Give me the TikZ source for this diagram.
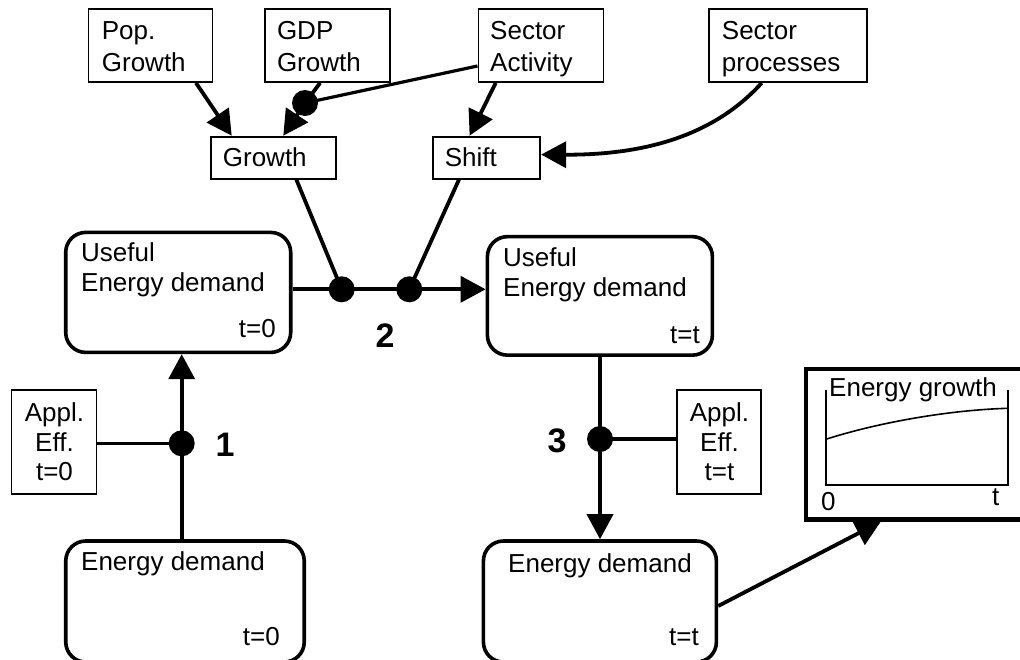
\documentclass[tikz,border=0pt]{standalone}
\usepackage{fontspec}
\setmainfont{Liberation Sans}
\usetikzlibrary{arrows.meta,calc}
\tikzset{
  thinbox/.style={draw, line width=1.8pt, inner sep=0pt},
  rbox/.style={draw, line width=3.6pt, rounded corners=20pt, inner sep=0pt},
  egbox/.style={draw, line width=4.5pt, inner sep=0pt},
  dot/.style={circle, fill=black, minimum size=26pt, inner sep=0pt},
  conn/.style={line width=3.8pt},
  arr/.style={conn, -{Triangle[length=25pt,width=26pt]}},
  thinconn/.style={line width=3.2pt},
  lbl/.style={font=\fontsize{26}{30}\selectfont, inner sep=0pt, anchor=base west},
  rlbl/.style={font=\fontsize{26}{30}\selectfont, inner sep=0pt, anchor=base east},
  clbl/.style={font=\fontsize{26}{30}\selectfont, inner sep=0pt, anchor=base},
  num/.style={font=\fontsize{34}{40}\selectfont\bfseries, inner sep=0pt, anchor=center},
  axis/.style={line width=1.6pt}
}
\begin{document}
\begin{tikzpicture}[x=1pt,y=-1pt]
\useasboundingbox (0,0) rectangle (1020,659);
\clip (0,0) rectangle (1020,659);
% top boxes
\node[thinbox, minimum width=124pt, minimum height=73pt] (pop) at (150.4,45.5) {};
\node[thinbox, minimum width=125pt, minimum height=73pt] (gdp) at (327.7,45.5) {};
\node[thinbox, minimum width=125pt, minimum height=73pt] (sa) at (540.9,45.5) {};
\node[thinbox, minimum width=158pt, minimum height=73pt] (sp) at (788,45.5) {};
\node[thinbox, minimum width=125pt, minimum height=42pt] (growth) at (273.3,157.6) {};
\node[thinbox, minimum width=107.5pt, minimum height=42pt] (shift) at (486.5,157.6) {};
\node[lbl] (popa) at (101.7,39.5) {Pop.};
\node[lbl] (popb) at (101.7,71) {Growth};
\node[lbl] (gdpa) at (276.8,39.5) {GDP};
\node[lbl] (gdpb) at (276.8,71) {Growth};
\node[lbl] (saa) at (490,39.5) {Sector};
\node[lbl] (sab) at (490,71) {Activity};
\node[lbl] (spa) at (721.7,39.5) {Sector};
\node[lbl] (spb) at (721.7,71) {processes};
\node[lbl] (growtht) at (222.7,166.3) {Growth};
\node[lbl] (shiftt) at (444.6,166.3) {Shift};
% main boxes
\node[rbox, minimum width=225pt, minimum height=120pt] (ue0) at (178.2,292.4) {};
\node[rbox, minimum width=225pt, minimum height=118.5pt] (uet) at (599.9,295.9) {};
\node[rbox, minimum width=238.5pt, minimum height=121pt] (ed0) at (185,601.5) {};
\node[rbox, minimum width=233pt, minimum height=121pt] (edt) at (599.9,601.5) {};
\node[lbl] (ue0a) at (81,261.7) {Useful};
\node[lbl] (ue0b) at (81,291.7) {Energy demand};
\node[rlbl] (ue0c) at (276,337.7) {t=0};
\node[lbl] (ueta) at (503,266.6) {Useful};
\node[lbl] (uetb) at (503,296.7) {Energy demand};
\node[rlbl] (uetc) at (700,343) {t=t};
\node[lbl] (ed0a) at (81,570) {Energy demand};
\node[rlbl] (ed0b) at (280,645) {t=0};
\node[lbl] (edta) at (508,572.5) {Energy demand};
\node[rlbl] (edtb) at (699,645.7) {t=t};
% efficiency boxes
\node[thinbox, minimum width=85pt, minimum height=104pt] (appl0) at (54,442.2) {};
\node[thinbox, minimum width=84.5pt, minimum height=104pt] (applt) at (719,442.2) {};
\node[clbl] (appl0a) at (54.5,421.5) {Appl.};
\node[clbl] (appl0b) at (54.5,451) {Eff.};
\node[clbl] (appl0c) at (54.5,480.5) {t=0};
\node[clbl] (applta) at (719.5,421.5) {Appl.};
\node[clbl] (appltb) at (719.5,451) {Eff.};
\node[clbl] (appltc) at (719.5,480.5) {t=t};
% energy growth box
\node[egbox, minimum width=224pt, minimum height=150.4pt] (eg) at (918,444.2) {};
\draw[axis] (825.7,390) -- (825.7,485) -- (1007.7,485) -- (1007.7,390);
\draw[line width=1.6pt] (825.7,439.3) .. controls (880,422) and (950,410) .. (1007.7,408.3);
\node[lbl] (egt) at (829,396.7) {Energy growth};
\node[lbl] (eg0) at (821,510) {0};
\node[lbl] (egtt) at (992,505) {t};
% dots
\node[dot] (dg) at (305,103) {};
\node[dot] (d1) at (181.7,443.3) {};
\node[dot] (d2a) at (341.7,289.3) {};
\node[dot] (d2b) at (409.3,289.3) {};
\node[dot] (d3) at (600,439) {};
% numbers
\node[num] (n1) at (225,445) {1};
\node[num] (n2) at (385,335.5) {2};
\node[num] (n3) at (557,441) {3};
% connectors top
\draw[arr] ($(pop.south)+(45.6,0)$) -- ($(growth.north)+(-41.6,0)$);
\draw[conn] ($(gdp.south)+(-7.6,0)$) -- (dg.center);
\draw[arr] (dg.center) -- ($(growth.north)+(10,0)$);
\draw[thinconn] ($(sa.west)+(0,20.5)$) -- (dg.center);
\draw[arr] ($(sa.south)+(-45.2,0)$) -- ($(shift.north)+(-16.9,0)$);
\draw[arr] ($(sp.south)+(-26.3,0)$) .. controls (712,138) and (640,155) .. ($(shift.east)+(0,-3)$);
\draw[conn] ($(growth.south)+(23,0)$) -- (d2a.center);
\draw[conn] ($(shift.south)+(-27.5,0)$) -- (d2b.center);
% main flow
\draw[conn] (ue0.east |- d2a) -- (d2a.center) -- (d2b.center);
\draw[arr] (d2b.center) -- (uet.west |- d2b);
\draw[arr] (ed0.north -| d1) -- (ue0.south -| d1);
\draw[thinconn] (appl0.east |- d1) -- (d1.center);
\draw[conn] (uet.south -| d3) -- (d3.center);
\draw[arr] (d3.center) -- (edt.north -| d3);
\draw[thinconn] (d3.center) -- (applt.west |- d3);
\draw[arr] ($(edt.east)+(0,4.5)$) -- ($(eg.south west)+(77,0)$);
\end{tikzpicture}
\end{document}
